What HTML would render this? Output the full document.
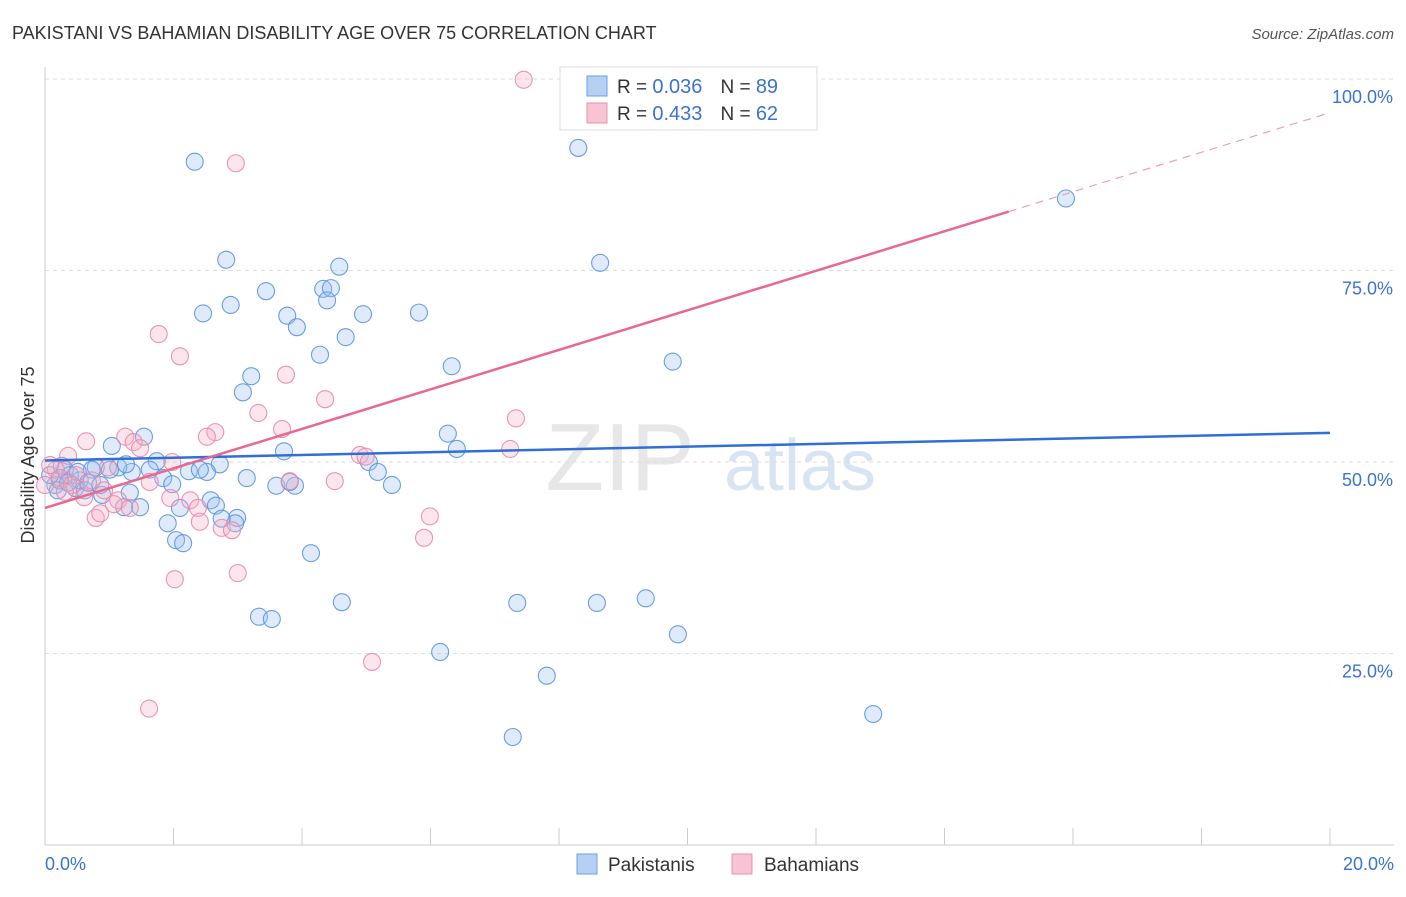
<!DOCTYPE html>
<html><head><meta charset="utf-8"><style>
body{margin:0;background:#fff;font-family:"Liberation Sans",sans-serif}
svg text{font-family:"Liberation Sans",sans-serif}
</style></head><body>
<svg id="c" width="1406" height="892">
<text x="12" y="39" font-size="18" fill="#333">PAKISTANI VS BAHAMIAN DISABILITY AGE OVER 75 CORRELATION CHART</text>
<text x="1394" y="39" font-size="15" fill="#555" font-style="italic" text-anchor="end">Source: ZipAtlas.com</text>
<g><text x="620" y="490" font-size="96" fill="#ddd" font-family="Liberation Serif" text-anchor="middle" opacity="0.7">ZIP</text><text x="800" y="490" font-size="72" fill="#c9d9ef" text-anchor="middle" opacity="0.7">atlas</text></g>
<g id="grid"></g><g id="axes"></g><g id="pts"></g><g id="lines"></g>
<text transform="translate(34,455) rotate(-90)" font-size="18" fill="#333" text-anchor="middle">Disability Age Over 75</text>
<g>
<rect x="560" y="67" width="257" height="63" fill="#fff" stroke="#ddd"/>
<rect x="587" y="76" width="20" height="20" fill="#b5d0f3" stroke="#6b9fe0"/>
<rect x="587" y="103" width="20" height="20" fill="#f8c3d3" stroke="#e891ae"/>
<text x="617" y="93" font-size="19" fill="#333">R = <tspan fill="#3b73d1" font-size="20">0.036</tspan><tspan dx="18">N = </tspan><tspan fill="#3b73d1" font-size="20">89</tspan></text>
<text x="617" y="120" font-size="19" fill="#333">R = <tspan fill="#3b73d1" font-size="20">0.433</tspan><tspan dx="18">N = </tspan><tspan fill="#3b73d1" font-size="20">62</tspan></text>
</g>
<g>
<rect x="577" y="854" width="20" height="20" fill="#b5d0f3" stroke="#6b9fe0"/>
<text x="608" y="871" font-size="19" fill="#333">Pakistanis</text>
<rect x="732" y="854" width="20" height="20" fill="#f8c3d3" stroke="#e891ae"/>
<text x="764" y="871" font-size="19" fill="#333">Bahamians</text>
</g>
</svg>
<script>
const yTicks=[25,50,75,100];
const yTickLabels=["25.0%","50.0%","75.0%","100.0%"];
const xTickLabels=["0.0%","20.0%"];
const pakX=[2.33,8.30,15.89,2.82,8.64,3.44,4.58,4.33,4.45,2.46,2.89,3.77,3.92,4.39,4.95,5.82,4.68,4.28,6.33,9.77,3.21,3.08,6.27,6.41,1.54,1.04,3.72,5.04,5.18,5.40,3.14,3.60,3.89,3.81,2.72,2.24,2.52,1.74,1.84,1.98,1.35,1.14,1.26,0.79,0.73,0.89,1.32,1.48,1.23,2.10,2.58,2.66,2.99,2.96,2.75,1.91,2.04,2.15,4.14,4.62,7.35,8.59,9.35,9.85,3.33,3.53,6.15,7.81,7.28,12.89,0.16,0.23,0.31,0.39,0.47,0.54,0.62,0.08,0.20,0.36,0.26,0.51,0.67,0.86,1.01,1.63,2.41];
const pakY=[89.2,91.0,84.4,76.4,76.0,72.3,75.5,72.6,72.7,69.4,70.5,69.1,67.6,71.1,69.3,69.5,66.3,64.0,62.5,63.1,61.2,59.1,53.7,51.7,53.3,52.1,51.4,50.0,48.7,47.0,47.9,46.9,46.9,47.4,49.7,48.8,48.7,50.1,47.9,47.1,48.7,49.3,49.7,49.3,49.0,45.7,46.0,44.1,44.1,44.0,45.0,44.3,42.7,42.0,42.6,42.0,39.8,39.4,38.1,31.7,31.6,31.6,32.2,27.5,29.8,29.5,25.2,22.1,14.1,17.1,47.0,47.6,49.0,48.3,46.6,47.6,46.3,48.3,46.3,47.3,49.5,48.7,47.3,47.0,49.0,49.0,49.0];
const bahX=[7.45,2.97,1.77,2.10,3.75,4.36,3.32,7.33,3.69,2.65,2.52,1.25,1.38,1.48,0.64,0.36,7.24,4.90,4.99,1.98,0.98,1.63,4.51,3.81,0.17,0.48,0.92,0.61,1.95,2.26,1.14,2.38,1.07,1.32,0.79,0.86,5.99,2.41,2.75,2.91,5.90,3.00,2.02,5.09,1.62,0.23,0.0,0.08,0.42,0.31,0.73];
const bahY=[99.9,89.0,66.7,63.8,61.4,58.2,56.4,55.7,54.3,53.9,53.3,53.3,52.6,51.8,52.7,50.8,51.7,50.9,50.7,50.0,49.3,47.4,47.5,47.5,49.0,48.3,46.3,45.4,45.3,45.0,45.0,44.0,44.5,44.0,42.7,43.3,42.9,42.2,41.4,41.1,40.1,35.5,34.7,23.9,17.8,47.9,47.0,49.6,47.0,46.1,47.6];
const pakTrend=[50.2,53.8];
const bahTrend=[44.0,95.6];
const bahSolidEnd=15.0;
const NS="http://www.w3.org/2000/svg";
const sx=v=>45+v/20*1285, sy=v=>845-v/100*766;
function mk(p,t,a){const e=document.createElementNS(NS,t);for(const k in a)e.setAttribute(k,a[k]);p.appendChild(e);return e;}
const grid=document.getElementById('grid'),axes=document.getElementById('axes'),pts=document.getElementById('pts'),lines=document.getElementById('lines');
yTicks.forEach((t,i)=>{
 const g=mk(grid,'line',{x1:45,x2:1394,y1:sy(t),y2:sy(t),stroke:'#ddd','stroke-dasharray':'4,4'});
 
 
 const tx=mk(axes,'text',{x:1393,y:sy(t)+24,'font-size':18,fill:'#3b73d1','text-anchor':'end'});
 tx.textContent=yTickLabels[i];
 
 
});
const xa=mk(axes,'line',{x1:45,x2:1394,y1:845,y2:845,stroke:'#ccc'});


const ya=mk(axes,'line',{x1:45,x2:45,y1:67,y2:845,stroke:'#ccc'});


for(let i=1;i<=10;i++){const tk=mk(axes,'line',{x1:sx(i*2),x2:sx(i*2),y1:828,y2:845,stroke:'#ccc'});
 
 }
const xl0=mk(axes,'text',{x:45,y:870,'font-size':18,fill:'#3b73d1'});xl0.textContent=xTickLabels[0];


const xl1=mk(axes,'text',{x:1394,y:870,'font-size':18,fill:'#3b73d1','text-anchor':'end'});xl1.textContent=xTickLabels[1];


function dots(X,Y,fill,stroke,name){X.forEach((x,i)=>{const c=mk(pts,'circle',{cx:sx(x),cy:sy(Y[i]),r:8.5,fill:fill,'fill-opacity':0.32,stroke:stroke,'stroke-width':1.1,'stroke-opacity':0.9});
 
 });}
dots(pakX,pakY,'#9dc0f0','#5b93e0','pakistani-point');
dots(bahX,bahY,'#f5b0c6','#e88aa8','bahamian-point');
const pl=mk(lines,'line',{x1:sx(0),y1:sy(pakTrend[0]),x2:sx(20),y2:sy(pakTrend[1]),stroke:'#2f6fd6','stroke-width':2.5});


const bm=bahTrend[0]+(bahTrend[1]-bahTrend[0])*bahSolidEnd/20;
const bl=mk(lines,'line',{x1:sx(0),y1:sy(bahTrend[0]),x2:sx(bahSolidEnd),y2:sy(bm),stroke:'#e8688f','stroke-width':2.5});


const bd=mk(lines,'line',{x1:sx(bahSolidEnd),y1:sy(bm),x2:sx(20),y2:sy(bahTrend[1]),stroke:'#eaa0b8','stroke-width':1.2,'stroke-dasharray':'8,6'});


</script>
</body></html>
